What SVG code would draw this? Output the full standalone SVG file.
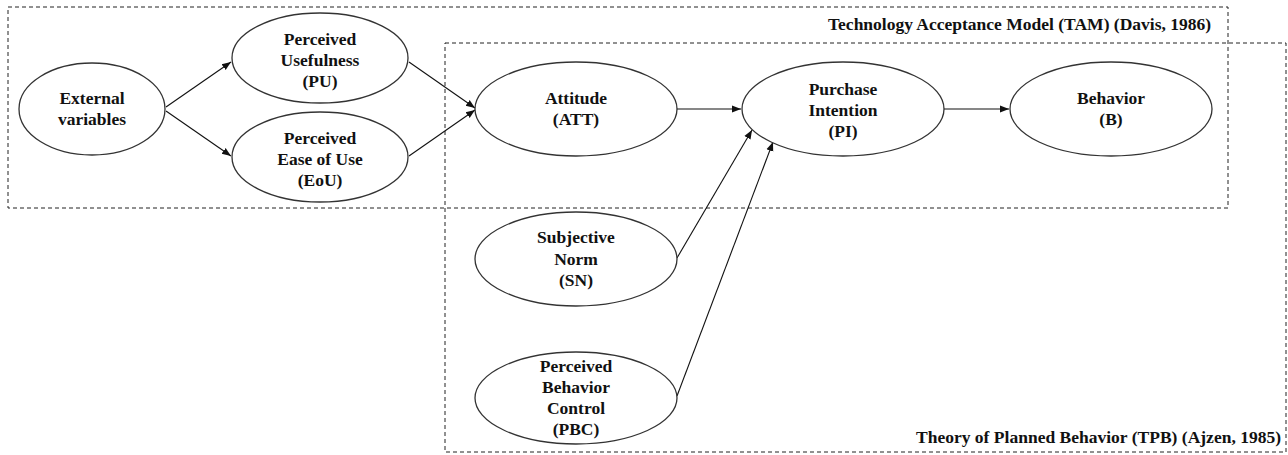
<svg xmlns="http://www.w3.org/2000/svg" width="1288" height="455" viewBox="0 0 1288 455">
<defs>
<style>
.frame{fill:none;stroke:#222;stroke-width:1;stroke-dasharray:4 3}
.node ellipse{fill:#fff;stroke:#333;stroke-width:1.3}
text{font-family:"Liberation Serif","Times New Roman",serif;font-weight:bold;font-size:17.5px;fill:#111}
.node text{text-anchor:middle}
.edge{stroke:#111;stroke-width:1.1;fill:none;marker-end:url(#arr)}
</style>
<marker id="arr" viewBox="0 0 10 10" refX="10" refY="5" markerWidth="9" markerHeight="9" markerUnits="userSpaceOnUse" orient="auto">
<path d="M0,1 L10,5 L0,9 z" fill="#111"/>
</marker>
</defs>
<rect width="1288" height="455" fill="#fff"/>
<g id="frames">
<rect class="frame" x="8" y="7" width="1220" height="201"/>
<rect class="frame" x="445" y="43" width="841" height="409"/>
<text x="1211" y="30" text-anchor="end" textLength="383" lengthAdjust="spacing">Technology Acceptance Model (TAM) (Davis, 1986)</text>
<text x="1281" y="443" text-anchor="end" textLength="365" lengthAdjust="spacing">Theory of Planned Behavior (TPB) (Ajzen, 1985)</text>
</g>
<g id="connectors">
<line class="edge" x1="166" y1="107" x2="231" y2="62"/>
<line class="edge" x1="166" y1="111" x2="231" y2="156"/>
<line class="edge" x1="409" y1="62" x2="475" y2="108"/>
<line class="edge" x1="409" y1="156" x2="475" y2="110"/>
<line class="edge" x1="677" y1="109" x2="741" y2="109"/>
<line class="edge" x1="944" y1="109" x2="1009" y2="109"/>
<line class="edge" x1="677" y1="258" x2="752" y2="130"/>
<line class="edge" x1="677" y1="396" x2="773" y2="142"/>
</g>
<g id="ext" class="node"><ellipse cx="92" cy="109" rx="73" ry="46"/><text x="92" y="104">External</text><text x="92" y="125">variables</text></g>
<g id="pu" class="node"><ellipse cx="320" cy="58" rx="88" ry="45"/><text x="320" y="45">Perceived</text><text x="320" y="66">Usefulness</text><text x="320" y="87">(PU)</text></g>
<g id="eou" class="node"><ellipse cx="320" cy="157" rx="88" ry="45"/><text x="320" y="144">Perceived</text><text x="320" y="165">Ease of Use</text><text x="320" y="186">(EoU)</text></g>
<g id="att" class="node"><ellipse cx="576" cy="109" rx="101" ry="47"/><text x="576" y="104">Attitude</text><text x="576" y="125">(ATT)</text></g>
<g id="pi" class="node"><ellipse cx="843" cy="109" rx="101" ry="47"/><text x="843" y="95">Purchase</text><text x="843" y="116">Intention</text><text x="843" y="137">(PI)</text></g>
<g id="b" class="node"><ellipse cx="1111" cy="109" rx="101" ry="47"/><text x="1111" y="104">Behavior</text><text x="1111" y="125">(B)</text></g>
<g id="sn" class="node"><ellipse cx="576" cy="259" rx="101" ry="47"/><text x="576" y="243">Subjective</text><text x="576" y="265">Norm</text><text x="576" y="286">(SN)</text></g>
<g id="pbc" class="node"><ellipse cx="576" cy="398" rx="101" ry="46"/><text x="576" y="372">Perceived</text><text x="576" y="393">Behavior</text><text x="576" y="414">Control</text><text x="576" y="435">(PBC)</text></g>
</svg>
